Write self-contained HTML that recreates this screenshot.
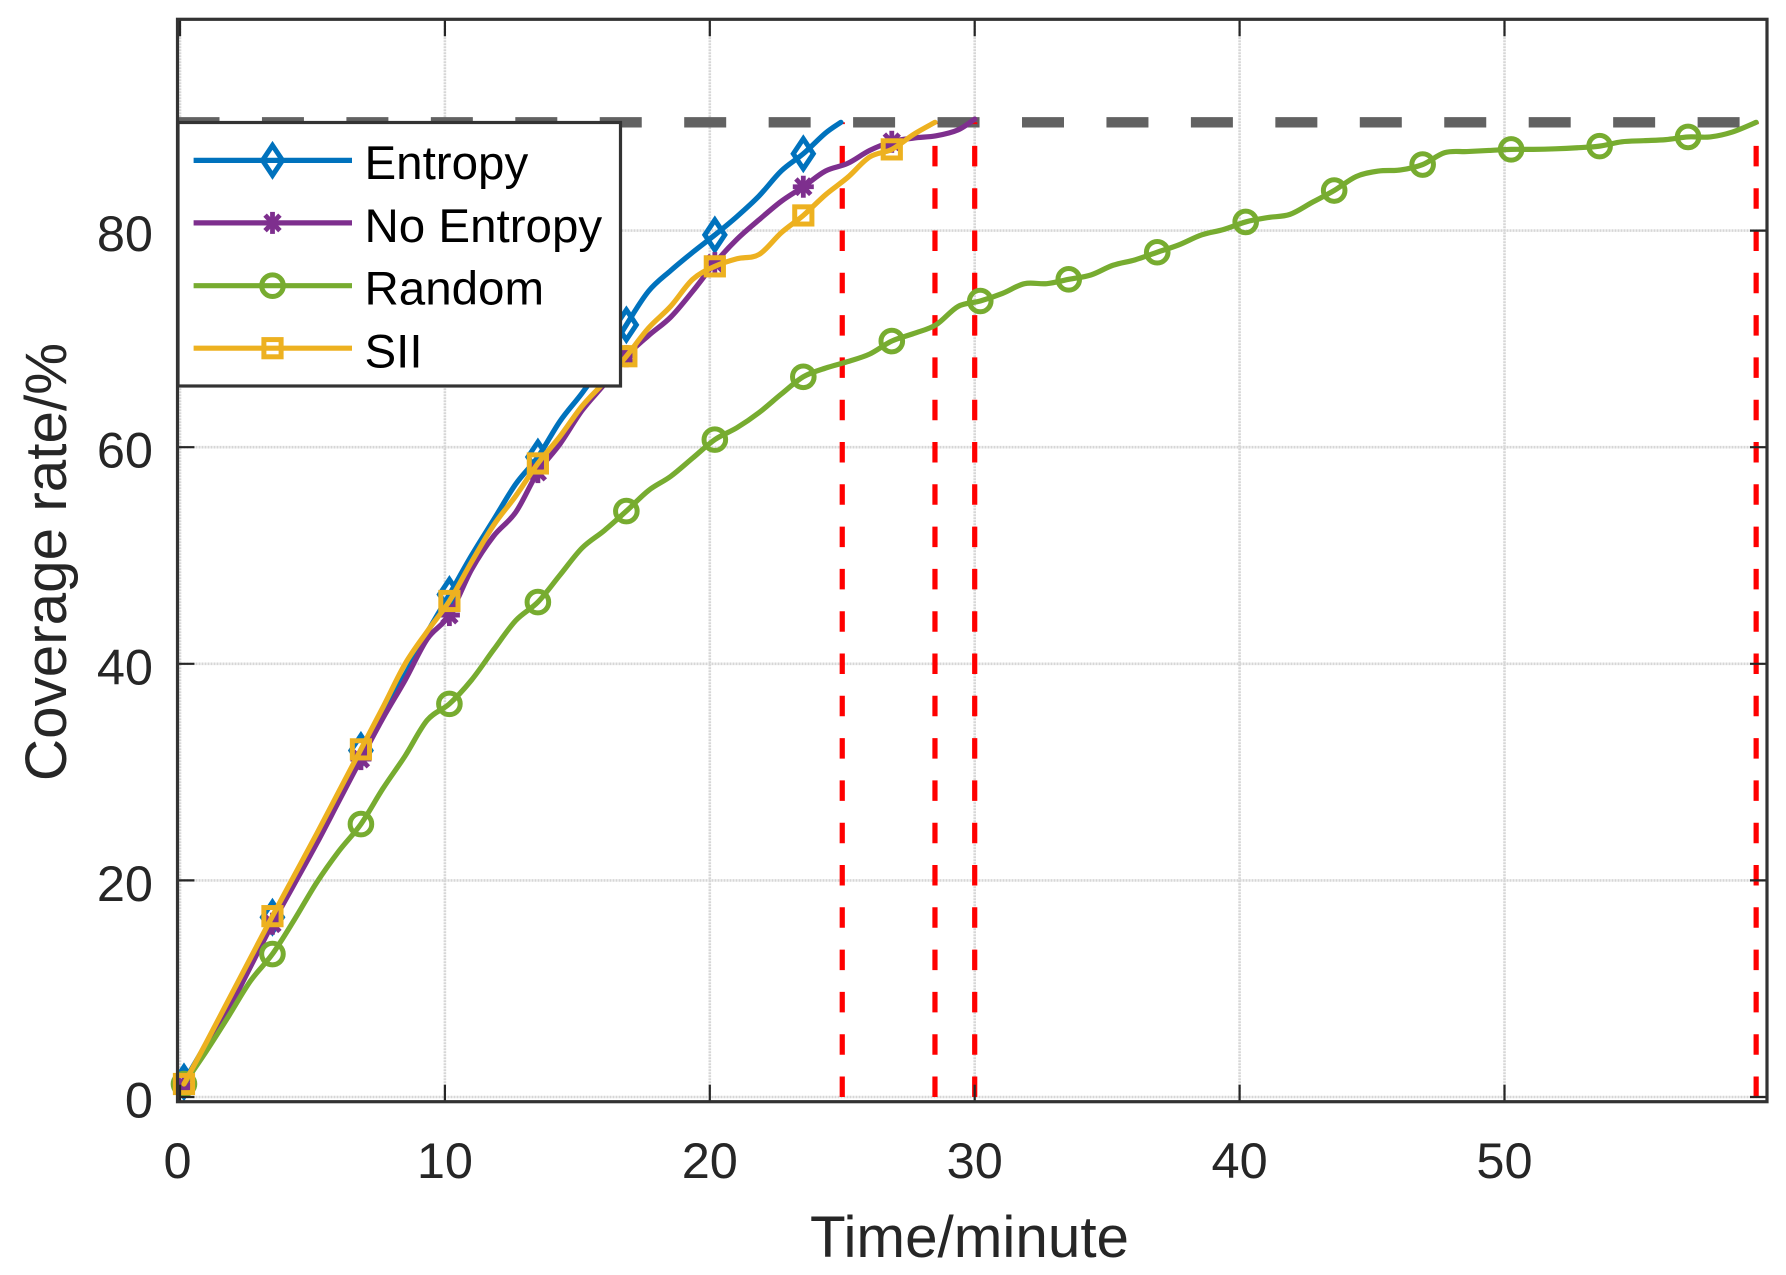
<!DOCTYPE html>
<html>
<head>
<meta charset="utf-8">
<title>Coverage rate over time</title>
<style>
html,body{margin:0;padding:0;background:#fff;}
svg{display:block;font-family:"Liberation Sans",Arial,sans-serif;}
</style>
</head>
<body>
<svg id="chart" xmlns="http://www.w3.org/2000/svg" width="1786" height="1275" viewBox="0 0 1786 1275">
  <rect x="0" y="0" width="1786" height="1275" fill="#fff"/>
  <g id="grid"></g>
  <g id="refs"></g>
  <g id="series"></g>
  <g id="ticks"></g>
  <rect x="177.5" y="19.3" width="1589.5" height="1082.4" fill="none" stroke="#333" stroke-width="3.2"/>
  <g id="ticklabels" font-size="50.5" fill="#262626"></g>
  <text x="969.5" y="1257" font-size="58.4" text-anchor="middle" fill="#262626">Time/minute</text>
  <text transform="translate(66,562) rotate(-90)" font-size="58.4" text-anchor="middle" fill="#262626">Coverage rate/%</text>
  <g id="legend">
    <rect x="178" y="122.5" width="442.5" height="263.5" fill="#fff" stroke="#333" stroke-width="3.2"/>
    <text x="364.5" y="179" font-size="47.5" fill="#000">Entropy</text>
    <text x="364.5" y="242" font-size="47.5" fill="#000">No Entropy</text>
    <text x="364.5" y="304.5" font-size="47.5" fill="#000">Random</text>
    <text x="364.5" y="367.5" font-size="47.5" fill="#000">SII</text>
  </g>
</svg>
<script>
const timeGrid = [0.15,0.985,1.82,2.655,3.49,4.325,5.16,5.995,6.83,7.665,8.5,9.335,10.17,11.005,11.84,12.675,13.51,14.345,15.18,16.015,16.85,17.685,18.52,19.355,20.19,21.025,21.86,22.695,23.53,24.365,25.2,26.035,26.87,27.705,28.54,29.375,30.21,31.045,31.88,32.715,33.55,34.385,35.22,36.055,36.89,37.725,38.56,39.395,40.23,41.065,41.9,42.735,43.57,44.405,45.24,46.075,46.91,47.745,48.58,49.415,50.25,51.085,51.92,52.755,53.59,54.425,55.26,56.095,56.93,57.765,58.6];
const entropyValues = [1.4,4.9,8.5,12.5,16.6,20.4,24.1,28,32,35.8,39,42.9,46.4,50,53.3,56.6,59.1,62.4,65,67.9,71.3,74.4,76.3,78,79.6,81.3,83.2,85.5,87.1,89,90];
const noEntropyValues = [1.1,4.4,8,12,16,19.7,23.4,27.3,31.2,35,38.5,42.3,44.5,48.7,51.8,54,57.7,60.3,63.4,65.8,68.4,70.3,72,74.4,77,79.2,81,82.7,84.05,85.5,86.2,87.4,88.2,88.55,88.75,89.3,90.3];
const randomValues = [1.2,4.2,7.4,10.7,13.2,16.4,19.8,22.7,25.2,28.5,31.5,34.8,36.3,38.5,41.3,44,45.7,48.2,50.7,52.3,54.1,56,57.3,59,60.7,61.8,63.2,64.9,66.5,67.3,67.9,68.6,69.8,70.5,71.3,73,73.5,74.2,75.1,75.1,75.5,75.9,76.8,77.3,78,78.7,79.6,80.1,80.8,81.2,81.5,82.6,83.7,85,85.5,85.6,86.1,87.2,87.3,87.4,87.5,87.5,87.55,87.65,87.8,88.2,88.3,88.4,88.65,88.65,89.1,90];
const siiValues = [1.2,5,8.9,12.8,16.7,20.5,24.3,28.2,32.1,36,40,43,45.8,49.4,52.8,55.5,58.5,61,63.8,66,68.4,71,73,75.5,76.7,77.4,77.8,79.8,81.4,83.3,84.9,86.8,87.5,88.9,90];
const endTimes = [24.95, 30, 59.5, 28.5];
const seriesNames = ['entropy','no-entropy','random','sii'];
const seriesValues = [entropyValues, noEntropyValues, randomValues, siiValues];
const seriesColors = ['#0072BD','#7E2F8E','#77AC30','#EDB120'];
const seriesMarkers = ['diamond','star','circle','square'];
const xTicks = [0,10,20,30,40,50];
const yTicks = [0,20,40,60,80];
const targetCoverage = [90];
const finishTimes = [25,28.5,30,59.5];

const NS = 'http://www.w3.org/2000/svg';
const xPos = t => 180 + 26.49 * t;
const yPos = v => 1097 - 10.83 * v;
const xRightEnd = 1767, yTopEnd = 19.3, yBottomEnd = 1101.7, xLeftEnd = 177.5;

function mk(tag, attrs, parent){
  const el = document.createElementNS(NS, tag);
  for (const k in attrs) el.setAttribute(k, attrs[k]);
  parent.appendChild(el);
  return el;
}
const gGrid = document.getElementById('grid');
const gRefs = document.getElementById('refs');
const gSeries = document.getElementById('series');
const gTicks = document.getElementById('ticks');
const gLabels = document.getElementById('ticklabels');
const gLegend = document.getElementById('legend');

const gridStyle = {stroke:'#d6d6d6','stroke-width':2.6,'stroke-dasharray':'2 1',fill:'none'};
xTicks.forEach(t => {
  const x = xPos(t);
  const g = mk('line', Object.assign({x1:x,x2:x,y1:yTopEnd,y2:yBottomEnd}, gridStyle), gGrid);
  
  
  const a = mk('line', {x1:x,x2:x,y1:yTopEnd,y2:yTopEnd+17,stroke:'#262626','stroke-width':2.2}, gTicks);
  
  
  const b = mk('line', {x1:x,x2:x,y1:yBottomEnd-17,y2:yBottomEnd,stroke:'#262626','stroke-width':2.2}, gTicks);
  
  
  const l = mk('text', {x:t===0?177.5:x,y:1178,'text-anchor':'middle'}, gLabels);
  
  
  l.textContent = String(t);
});
yTicks.forEach(v => {
  const y = yPos(v);
  const g = mk('line', Object.assign({x1:xLeftEnd,x2:xRightEnd,y1:y,y2:y}, gridStyle), gGrid);
  
  
  const a = mk('line', {x1:xLeftEnd,x2:xLeftEnd+17,y1:y,y2:y,stroke:'#262626','stroke-width':2.2}, gTicks);
  
  
  const b = mk('line', {x1:xRightEnd-17,x2:xRightEnd,y1:y,y2:y,stroke:'#262626','stroke-width':2.2}, gTicks);
  
  
  const l = mk('text', {x:153,y:y+20.5,'text-anchor':'end'}, gLabels);
  
  
  l.textContent = String(v);
});

targetCoverage.forEach(v => {
  const h = mk('line', {x1:xLeftEnd,x2:xRightEnd,y1:yPos(v),y2:yPos(v),stroke:'#626262','stroke-width':10.4,'stroke-dasharray':'42 42.45'}, gRefs);
  
  
});
finishTimes.forEach(t => {
  const x = xPos(t);
  const r = mk('line', {x1:x,x2:x,y1:yPos(0),y2:yPos(targetCoverage[0]),stroke:'#ff0000','stroke-width':5.2,'stroke-dasharray':'20.5 21.8'}, gRefs);
  
  
});

function drawMarker(kind, x, y, color, parent){
  const base = {fill:'none',stroke:color,'stroke-width':5,'stroke-linejoin':'miter'};
  if (kind === 'diamond') return mk('polygon', Object.assign({points:`${x},${y-15} ${x+10},${y} ${x},${y+15} ${x-10},${y}`}, base), parent);
  if (kind === 'circle') return mk('circle', Object.assign({cx:x,cy:y,r:10.8}, base), parent);
  if (kind === 'square') return mk('rect', Object.assign({x:x-8.6,y:y-8.6,width:17.2,height:17.2}, base), parent);
  const g = mk('g', {}, parent);
  for (let a = 0; a < 4; a++){
    const ang = a * Math.PI / 4;
    const dx = 10.5 * Math.cos(ang), dy = 11 * Math.sin(ang);
    mk('line', {x1:x-dx,y1:y-dy,x2:x+dx,y2:y+dy,stroke:color,'stroke-width':4.8}, g);
  }
  return g;
}

function smoothPath(px, py){
  let d = 'M' + px[0].toFixed(2) + ' ' + py[0].toFixed(2);
  for (let i = 0; i < px.length - 1; i++){
    const a = Math.max(i - 1, 0), b = Math.min(i + 2, px.length - 1);
    const c1x = px[i] + (px[i+1] - px[a]) / 6, c1y = py[i] + (py[i+1] - py[a]) / 6;
    const c2x = px[i+1] - (px[b] - px[i]) / 6, c2y = py[i+1] - (py[b] - py[i]) / 6;
    d += ' C' + c1x.toFixed(2) + ' ' + c1y.toFixed(2) + ' ' + c2x.toFixed(2) + ' ' + c2y.toFixed(2) + ' ' + px[i+1].toFixed(2) + ' ' + py[i+1].toFixed(2);
  }
  return d;
}

seriesValues.forEach((vals, s) => {
  const group = mk('g', {}, gSeries);
  
  
  const times = vals.map((v, i) => i < vals.length - 1 ? timeGrid[i] : endTimes[s]);
  const d = smoothPath(times.map(xPos), vals.map(yPos));
  const line = mk('path', {d:d,fill:'none',stroke:seriesColors[s],'stroke-width':5.2,'stroke-linejoin':'round','stroke-linecap':'round'}, group);
  
  
  vals.forEach((v, i) => {
    if (i % 4 === 0 && i < vals.length - 1) {
      const m = drawMarker(seriesMarkers[s], xPos(times[i]), yPos(v), seriesColors[s], group);
      
      
    }
  });
});

const legendRows = [160.4, 222.9, 285.7, 348.2];
legendRows.forEach((y, s) => {
  const l = mk('line', {x1:193.6,x2:352,y1:y,y2:y,stroke:seriesColors[s],'stroke-width':5.2}, gLegend);
  
  
  const m = drawMarker(seriesMarkers[s], 272.5, y, seriesColors[s], gLegend);
  
  
});
</script>
</body>
</html>
